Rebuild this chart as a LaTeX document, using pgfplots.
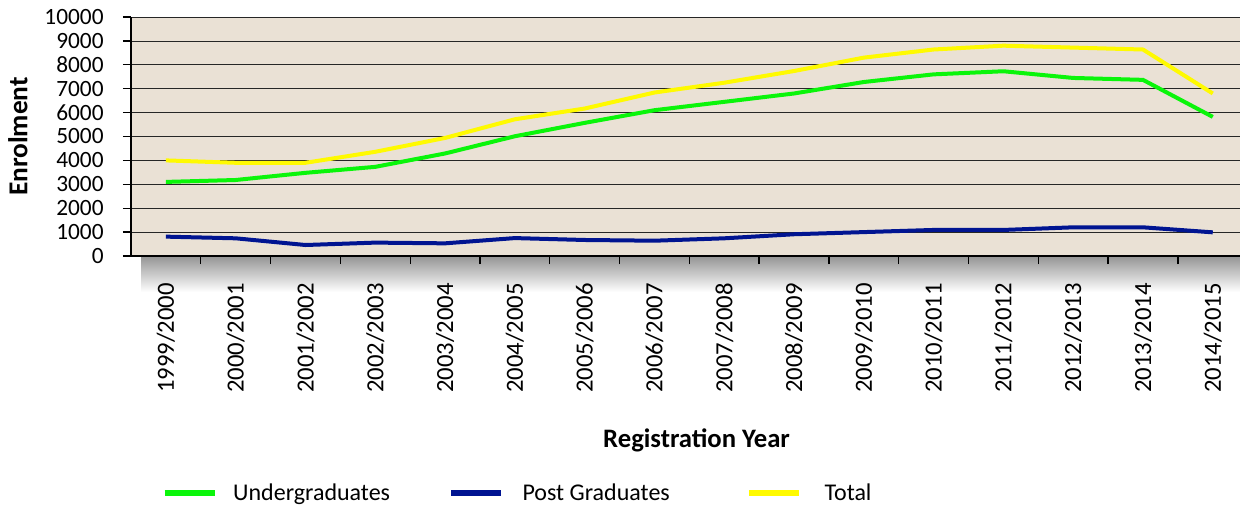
\documentclass[border=0pt]{standalone}
\usepackage{fontspec}
\setmainfont{Carlito}
\usepackage{pgfplots}
\pgfplotsset{compat=1.18}

\definecolor{ugreen}{RGB}{10,245,10}
\definecolor{pgblue}{RGB}{0,20,145}
\definecolor{totyellow}{RGB}{255,250,0}
\definecolor{bgbeige}{RGB}{234,225,213}

% enrolment per registration year (index 0 = 1999/2000)
\pgfplotstableread{
x  ug    pg    tot
0  3100  810   4000
1  3180  740   3900
2  3480  460   3900
3  3730  560   4360
4  4290  530   4940
5  5010  750   5720
6  5570  670   6170
7  6100  640   6840
8  6450  740   7250
9  6800  910   7740
10 7280  1000  8300
11 7600  1090  8640
12 7730  1090  8800
13 7450  1200  8720
14 7370  1200  8640
15 5820  990   6800
}\enrol

\begin{document}
\begin{tikzpicture}
% page = 1240x508 px, 1px = 0.75pt
\useasboundingbox (0,0) rectangle (930pt,381pt);
% drop shadow under the plot area
\shade[top color=black!42, bottom color=white] (106pt,189pt) rectangle (930pt,162pt);
\begin{axis}[
    at={(98.25pt,189pt)}, anchor=south west,
    scale only axis,
    width=831.75pt, height=179.25pt,
    xmin=-0.5, xmax=15.39,
    ymin=0, ymax=10000,
    axis lines*=left,
    axis line style={black, line width=1pt},
    axis background/.style={fill=bgbeige},
    ymajorgrids,
    grid style={black!85, line width=0.6pt},
    tick align=outside,
    major tick length=6pt,
    tick style={black, line width=1pt},
    scaled y ticks=false,
    ytick={0,1000,...,10000},
    xtick={0.5,1.5,...,14.5},
    xticklabels={},
    extra x ticks={0,...,15},
    extra x tick labels={1999/2000,2000/2001,2001/2002,2002/2003,2003/2004,2004/2005,2005/2006,2006/2007,2007/2008,2008/2009,2009/2010,2010/2011,2011/2012,2012/2013,2013/2014,2014/2015},
    extra x tick style={major tick length=0pt,
        tick label style={rotate=90, anchor=east},
        xticklabel shift=17pt},
    yticklabel shift=11pt,
    /pgf/number format/assume math mode=true,
    /pgf/number format/1000 sep={},
    xticklabel style={font=\fontsize{18.5}{19}\selectfont},
    yticklabel style={font=\fontsize{17.5}{18}\selectfont},
    ylabel={\textbf{Enrolment}},
    ylabel style={at={(axis description cs:-0.102,0.5)}, anchor=center, rotate=0,
        font=\fontsize{20.5}{21}\selectfont},
    xlabel={\textbf{Registration Year}},
    xlabel style={at={(axis description cs:0.510,-0.770)}, anchor=center,
        font=\fontsize{20}{21}\selectfont},
    legend columns=3,
    legend cell align=left,
    legend style={at={(axis description cs:0.024,-0.992)}, anchor=west,
        draw=none, fill=none, font=\fontsize{18}{18}\selectfont},
    legend image code/.code={\draw[#1, line width=4pt] (0pt,0pt) -- (37.5pt,0pt);},
    every axis plot/.append style={line width=3pt},
]
\addplot[ugreen] table[x=x, y=ug] {\enrol};
\addlegendentry{\makebox[169.5pt][l]{\hspace{10pt}Undergraduates}}
\addplot[pgblue] table[x=x, y=pg] {\enrol};
\addlegendentry{\makebox[178pt][l]{\hspace{12pt}Post Graduates}}
\addplot[totyellow] table[x=x, y=tot] {\enrol};
\addlegendentry{\hspace{15pt}Total}
\end{axis}
\end{tikzpicture}
\end{document}
